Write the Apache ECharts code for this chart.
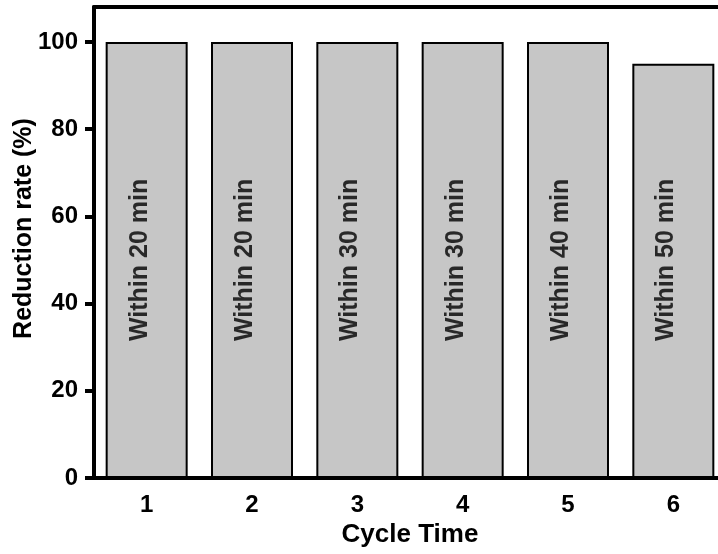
<!DOCTYPE html>
<html>
<head>
<meta charset="utf-8">
<style>
  html, body { margin: 0; padding: 0; background: #fff; }
  #chart { width: 718px; height: 554px; }
</style>
<script src="https://cdn.jsdelivr.net/npm/echarts@6/dist/echarts.min.js"></script>
</head>
<body>
<div id="chart"></div>
<script>
// Reduction rate per reuse cycle
const cycles = ['1', '2', '3', '4', '5', '6'];
const rates = [100, 100, 100, 100, 100, 95];
const durations = ['Within 20 min', 'Within 20 min', 'Within 30 min', 'Within 30 min', 'Within 40 min', 'Within 50 min'];
const yTicks = [0, 20, 40, 60, 80, 100];
const textLevel = 50; // height at which the duration text sits inside each bar

const FONT = '"Liberation Sans", Arial, sans-serif';
const chart = echarts.init(document.getElementById('chart'), null, { renderer: 'canvas' });

chart.setOption({
  animation: false,
  backgroundColor: '#ffffff',
  // the plot frame runs past the right edge of the canvas
  grid: { left: 94, top: 7, width: 632, bottom: 76, containLabel: false, outerBoundsMode: 'none' },
  xAxis: [
    {
      type: 'category',
      data: cycles,
      position: 'bottom',
      name: 'Cycle Time',
      nameLocation: 'middle',
      nameGap: 43,
      nameTextStyle: { fontFamily: FONT, fontWeight: 'bold', fontSize: 26, color: '#000' },
      axisLine: { lineStyle: { color: '#000', width: 4 } },
      axisTick: { alignWithLabel: true, length: 10, lineStyle: { color: '#000', width: 4 } },
      axisLabel: { fontFamily: FONT, fontWeight: 'bold', fontSize: 24, color: '#000', margin: 15 },
      splitLine: { show: false }
    },
    {
      type: 'category',
      data: cycles,
      position: 'top',
      axisLine: { lineStyle: { color: '#000', width: 4 } },
      axisTick: { show: false },
      axisLabel: { show: false },
      splitLine: { show: false }
    }
  ],
  yAxis: {
    type: 'value',
    min: 0,
    max: 108,
    interval: 20,
    name: 'Reduction rate (%)',
    nameLocation: 'middle',
    nameGap: 57,
    nameMoveOverlap: false,
    nameRotate: 90,
    nameTextStyle: { fontFamily: FONT, fontWeight: 'bold', fontSize: 25, color: '#000', padding: [0, 0, 0, 28] },
    axisLine: { show: true, lineStyle: { color: '#000', width: 4 } },
    axisTick: { show: true, length: 9, customValues: yTicks, lineStyle: { color: '#000', width: 4 } },
    axisLabel: { customValues: yTicks, fontFamily: FONT, fontWeight: 'bold', fontSize: 24, color: '#000', margin: 16 },
    splitLine: { show: false }
  },
  series: [
    {
      type: 'bar',
      data: rates,
      barWidth: 82,
      itemStyle: { color: '#c6c6c6', borderColor: '#000', borderWidth: 2 },
      z: 2
    },
    {
      type: 'scatter',
      data: durations.map(function () { return textLevel; }),
      symbolSize: 0,
      z: 5,
      label: {
        show: true,
        position: 'inside',
        rotate: 90,
        offset: [0, -7],
        formatter: function (p) { return durations[p.dataIndex]; },
        fontFamily: FONT,
        fontWeight: 'bold',
        fontSize: 25,
        color: '#000'
      },
      silent: true
    }
  ]
});
</script>
</body>
</html>
